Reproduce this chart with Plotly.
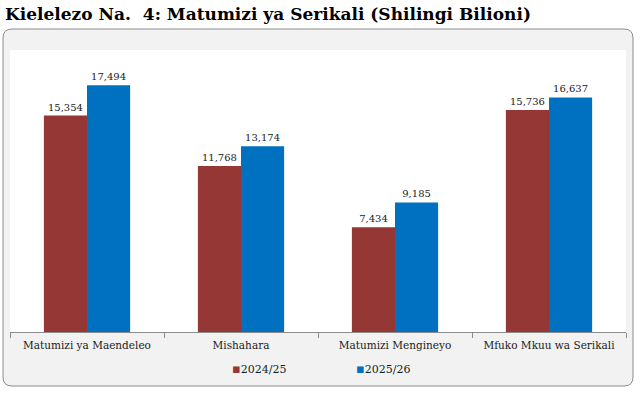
import plotly.graph_objects as go

categories = ["Matumizi ya Maendeleo", "Mishahara", "Matumizi Mengineyo", "Mfuko Mkuu wa Serikali"]
series_names = ["2024/25", "2025/26"]
values_2024 = [15354, 11768, 7434, 15736]
values_2025 = [17494, 13174, 9185, 16637]
colors = ["#953735", "#0070C0"]
title_text = "Kielelezo Na.  4: Matumizi ya Serikali (Shilingi Bilioni)"

W, H = 640, 395
L, R, T, B = 10, 626, 50, 332  # plot area in px
pw, ph = R - L, B - T

def px(X):
    return (X - L) / pw

def py(Y):
    return (B - Y) / ph

def rounded(x0, y0, x1, y1, r):
    def p(X, Y):
        return f"{px(X):.5f},{py(Y):.5f}"
    return (f"M {p(x0 + r, y0)} L {p(x1 - r, y0)} Q {p(x1, y0)} {p(x1, y0 + r)} "
            f"L {p(x1, y1 - r)} Q {p(x1, y1)} {p(x1 - r, y1)} "
            f"L {p(x0 + r, y1)} Q {p(x0, y1)} {p(x0, y1 - r)} "
            f"L {p(x0, y0 + r)} Q {p(x0, y0)} {p(x0 + r, y0)} Z")

serif = "DejaVu Serif"

fig = go.Figure()
for name, vals, col in zip(series_names, [values_2024, values_2025], colors):
    fig.add_trace(go.Bar(
        x=categories, y=vals, name=name, marker_color=col, marker_line_width=0,
        text=[f"{v:,}" for v in vals], textposition="outside",
        textfont=dict(family=serif, size=10, color="#1a1a1a"),
        cliponaxis=False, showlegend=False, hoverinfo="skip",
    ))

shapes = [
    dict(type="path", xref="paper", yref="paper", layer="below",
         path=rounded(3, 29, 633, 386, 9),
         fillcolor="#f2f2f2", line=dict(color="#8c8c8c", width=1)),
    dict(type="rect", xref="paper", yref="paper", layer="below",
         x0=0, x1=1, y0=0, y1=1, fillcolor="#ffffff", line=dict(width=0)),
]

legend_x = [230, 354]
annotations = []
for name, col, lx in zip(series_names, colors, legend_x):
    annotations.append(dict(
        xref="paper", yref="paper", x=px(lx), y=py(368), xanchor="left", yanchor="middle",
        showarrow=False,
        text=f"<span style='color:{col};font-size:13px'>▪</span>{name}",
        font=dict(family=serif, size=11, color="#1a1a1a"),
    ))

fig.update_layout(
    width=W, height=H,
    margin=dict(l=L, r=W - R, t=T, b=H - B, pad=0),
    paper_bgcolor="#ffffff", plot_bgcolor="rgba(0,0,0,0)",
    barmode="group", bargap=0.44, bargroupgap=0,
    shapes=shapes, annotations=annotations,
    title=dict(text=f"<b>{title_text}</b>", xref="container", yref="container",
               x=5 / W, xanchor="left", y=1 - 14 / H, yanchor="middle",
               font=dict(family=serif, size=17, color="#000000")),
    xaxis=dict(showline=True, linecolor="#8c8c8c", linewidth=1,
               ticks="outside", tickson="boundaries", ticklen=5, tickcolor="#8c8c8c",
               ticklabelstandoff=3,
               tickfont=dict(family=serif, size=10.5, color="#1a1a1a"), showgrid=False),
    yaxis=dict(range=[0, 20000], visible=False, showgrid=False, zeroline=False),
)

fig.write_html("out.html", config={"displayModeBar": False},
               post_script="document.body.style.margin='0';document.body.style.overflow='hidden';")
